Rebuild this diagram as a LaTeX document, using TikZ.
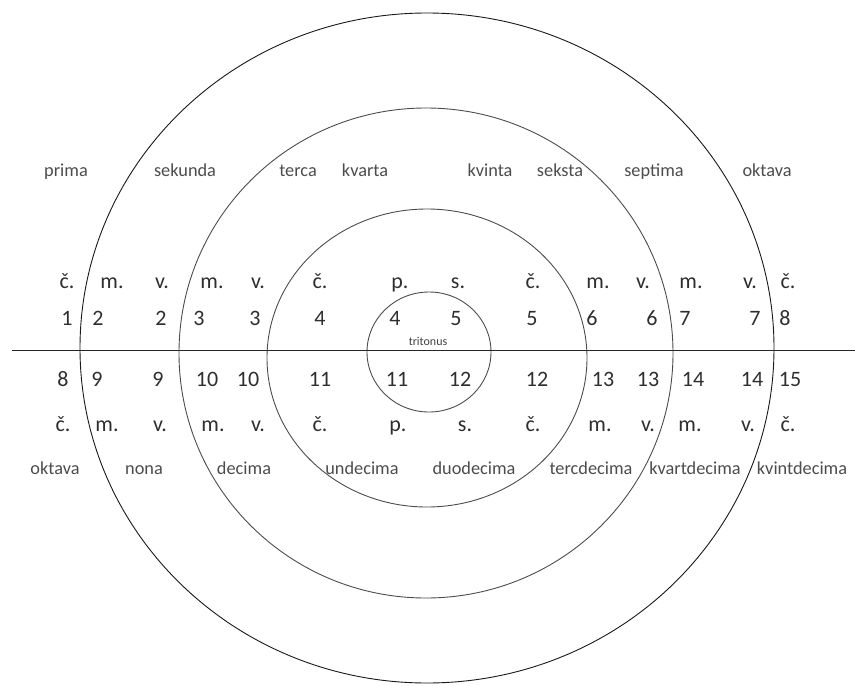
\documentclass[tikz,border=0pt]{standalone}
\usepackage{fontspec}
\setmainfont{Carlito}
\usepackage{tikz}
\usetikzlibrary{positioning}

\begin{document}
\begin{tikzpicture}[x=1pt,y=-1pt,
  ring/.style={black!70,line width=0.9pt},
  iname/.style={anchor=base,inner sep=0pt,text=black!70,font=\fontsize{18.3}{19}\selectfont},
  qual/.style={anchor=base,inner sep=0pt,text=black!82,font=\fontsize{22}{23}\selectfont},
  tone/.style={anchor=base,inner sep=0pt,text=black!82,font=\fontsize{22}{23}\selectfont}]
  \useasboundingbox (0,0) rectangle (855,686);
  % ---- rings ----
  \draw[ring,black!90] (427,348) ellipse [x radius=347pt,y radius=335pt];
  \draw[ring] (426,353) ellipse [x radius=247pt,y radius=245pt];
  \draw[ring] (427,358) ellipse [x radius=160pt,y radius=149pt];
  \draw[ring] (429,352) ellipse [x radius=62pt,y radius=60pt];
  % ---- axis ----
  \coordinate (west) at (12,350);
  \coordinate (east) at (855,350);
  \draw[black!85,line width=0.9pt] (west) -- (east);
  % ---- upper half: simple intervals ----
  \foreach \x/\t [count=\i] in {66/prima,185/sekunda,298/terca,365/kvarta,490/kvinta,560/seksta,654/septima,767/oktava}
    \node[iname,name=up\i] at (\x,176) {\t};
  \foreach \x/\t [count=\i] in {67/č.,112/m.,162/v.,212/m.,258/v.,320/č.,400/p.,458/s.,533/č.,598/m.,643/v.,691/m.,750/v.,788/č.}
    \node[qual,name=uq\i] at (\x,288) {\t};
  \foreach \x/\t [count=\i] in {67/1,98/2,161/2,199/3,255/3,320/4,395/4,456/5,532/5,592/6,652/6,685/7,755/7,785/8}
    \node[tone,name=ut\i] at (\x,325) {\t};
  \node[anchor=base,inner sep=0pt,text=black!75,font=\fontsize{12}{12}\selectfont] (tri) at (428,345.5) {tritonus};
  % ---- lower half: compound intervals ----
  \foreach \x/\t [count=\i] in {63/8,97/9,158/9,207/10,248/10,320/11,397/11,460/12,537/12,603/13,648/13,693/14,752/14,790/15}
    \node[tone,name=lt\i] at (\x,386) {\t};
  \foreach \x/\t [count=\i] in {63/č.,107/m.,160/v.,213/m.,258/v.,320/č.,398/p.,465/s.,533/č.,600/m.,648/v.,690/m.,748/v.,788/č.}
    \node[qual,name=lq\i] at (\x,431) {\t};
  \foreach \x/\t [count=\i] in {55/oktava,144/nona,244/decima,362/undecima,474/duodecima,591/tercdecima,695/kvartdecima,802/kvintdecima}
    \node[iname,name=lo\i] at (\x,474) {\t};
\end{tikzpicture}
\end{document}
